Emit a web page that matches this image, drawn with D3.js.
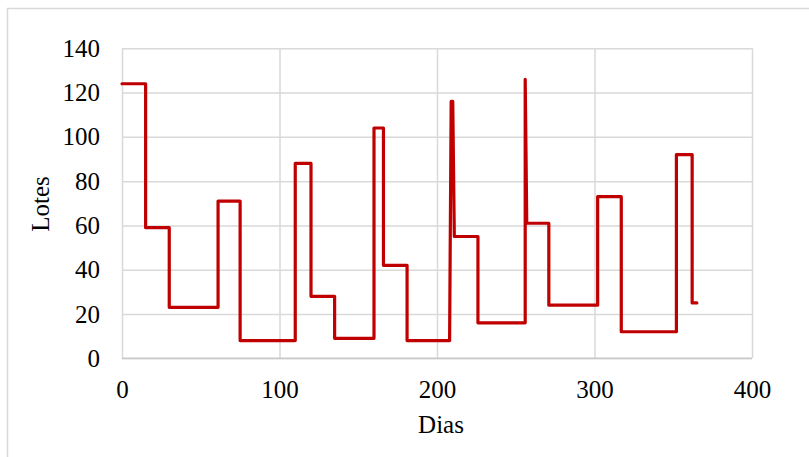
<!DOCTYPE html>
<html>
<head>
<meta charset="utf-8">
<script src="https://cdn.jsdelivr.net/npm/d3@7"></script>
<style>
  html, body { margin: 0; padding: 0; background: #ffffff; }
  svg { display: block; }
</style>
</head>
<body>
<svg id="chart" width="809" height="457"></svg>
<script>
// Stock level per day (step profile)
const days   = [0,   15,  15, 30, 30, 61, 61, 75, 75, 110, 110, 120, 120, 135, 135, 160, 160, 166, 166, 181, 181, 208, 209, 210, 211, 226, 226, 256, 256, 257, 271, 271, 302, 302, 317, 317, 352, 352, 362, 362, 365];
const lotes  = [124, 124, 59, 59, 23, 23, 71, 71, 8,  8,   88,  88,  28,  28,  9,   9,   104, 104, 42,  42,  8,   8,   116, 116, 55,  55,  16,  16,  126, 61,  61,  24,  24,  73,  73,  12,  12,  92,  92,  25,  25];

const xTicks = [0, 100, 200, 300, 400];
const yTicks = [0, 20, 40, 60, 80, 100, 120, 140];

const xTitle = "Dias";
const yTitle = "Lotes";

const svg = d3.select("#chart");
const font = "'Liberation Serif', 'Times New Roman', serif";

// Outer chart frame
svg.append("rect")
  .attr("x", 7.5).attr("y", 8.5)
  .attr("width", 820).attr("height", 470)
  .attr("fill", "none")
  .attr("stroke", "#d9d9d9")
  .attr("stroke-width", 1.5);

const plot = { left: 122, right: 752, top: 48.3, bottom: 358.3 };

const x = d3.scaleLinear().domain([0, 400]).range([plot.left, plot.right]);
const y = d3.scaleLinear().domain([0, 140]).range([plot.bottom, plot.top]);

// Horizontal gridlines
svg.append("g")
  .attr("transform", `translate(${plot.left},0)`)
  .call(d3.axisLeft(y).tickValues(yTicks).tickSize(-(plot.right - plot.left)).tickFormat(""))
  .call(g => g.select(".domain").remove())
  .call(g => g.selectAll("line").attr("stroke", "#d9d9d9").attr("stroke-width", 1.5));

// Vertical gridlines
svg.append("g")
  .attr("transform", `translate(0,${plot.bottom})`)
  .call(d3.axisBottom(x).tickValues(xTicks).tickSize(-(plot.bottom - plot.top)).tickFormat(""))
  .call(g => g.select(".domain").remove())
  .call(g => g.selectAll("line").attr("stroke", "#d9d9d9").attr("stroke-width", 1.5));

// Bottom axis line
svg.append("line")
  .attr("x1", plot.left).attr("x2", plot.right)
  .attr("y1", plot.bottom).attr("y2", plot.bottom)
  .attr("stroke", "#c8c8c8").attr("stroke-width", 1.5);

// Y tick labels
svg.append("g")
  .attr("transform", `translate(${plot.left},0)`)
  .call(d3.axisLeft(y).tickValues(yTicks).tickSize(0).tickPadding(22))
  .call(g => g.select(".domain").remove())
  .call(g => g.selectAll("text")
    .attr("font-family", font).attr("font-size", 25).attr("fill", "#000"));

// X tick labels
svg.append("g")
  .attr("transform", `translate(0,${plot.bottom})`)
  .call(d3.axisBottom(x).tickValues(xTicks).tickSize(0).tickPadding(22))
  .call(g => g.select(".domain").remove())
  .call(g => g.selectAll("text")
    .attr("font-family", font).attr("font-size", 25).attr("fill", "#000"));

// Series line
const line = d3.line().x((d, i) => x(days[i])).y(d => y(d));
svg.append("path")
  .datum(lotes)
  .attr("d", line)
  .attr("fill", "none")
  .attr("stroke", "#c00000")
  .attr("stroke-width", 3.2)
  .attr("stroke-linejoin", "round")
  .attr("stroke-linecap", "round");

// Axis titles
svg.append("text")
  .attr("x", 441).attr("y", 433)
  .attr("text-anchor", "middle")
  .attr("font-family", font).attr("font-size", 25)
  .text(xTitle);

svg.append("text")
  .attr("transform", "translate(49,204) rotate(-90)")
  .attr("text-anchor", "middle")
  .attr("font-family", font).attr("font-size", 25)
  .text(yTitle);
</script>
</body>
</html>
